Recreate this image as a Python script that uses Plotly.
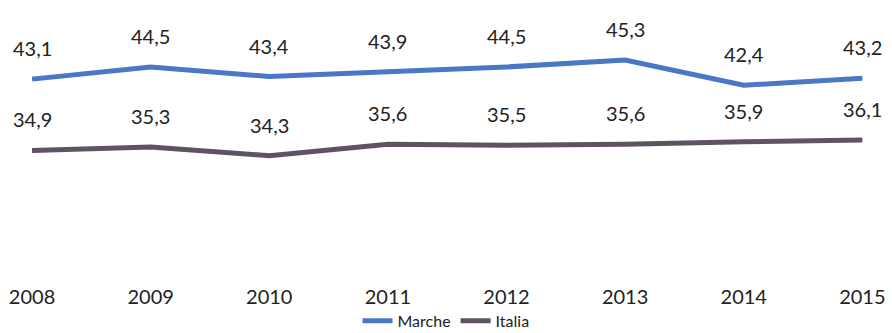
import plotly.graph_objects as go

years = [2008, 2009, 2010, 2011, 2012, 2013, 2014, 2015]
marche = [43.1, 44.5, 43.4, 43.9, 44.5, 45.3, 42.4, 43.2]
italia = [34.9, 35.3, 34.3, 35.6, 35.5, 35.6, 35.9, 36.1]

FONT = "Lato"
BLUE = "#4a78c4"
GREY = "#5f5262"

def fmt(v):
    return f"{v:.1f}".replace(".", ",")

fig = go.Figure()
fig.add_trace(go.Scatter(x=years, y=marche, name="Marche", mode="lines",
                         line=dict(color=BLUE, width=5)))
fig.add_trace(go.Scatter(x=years, y=italia, name="Italia", mode="lines",
                         line=dict(color=GREY, width=5)))

annotations = []
for series in (marche, italia):
    for x, v in zip(years, series):
        annotations.append(dict(x=x, y=v, xref="x", yref="y", text=fmt(v),
                                showarrow=False, yshift=31,
                                font=dict(family=FONT, size=20, color="#222222")))

fig.update_layout(
    width=892, height=333,
    margin=dict(l=0, r=0, t=0, b=53, autoexpand=False),
    paper_bgcolor="white", plot_bgcolor="white",
    annotations=annotations,
    xaxis=dict(range=[2007.73, 2015.25], tickmode="array", tickvals=years,
               ticktext=[str(y) for y in years], showgrid=False, zeroline=False,
               showline=False, ticks="", ticklabelstandoff=3,
               tickfont=dict(family=FONT, size=20, color="#222222")),
    yaxis=dict(range=[20, 52.2], visible=False),
    legend=dict(orientation="h", x=0.5, xanchor="center", y=-0.085, yanchor="top",
                font=dict(family=FONT, size=16, color="#222222"),
                itemwidth=30, tracegroupgap=0),
    showlegend=True,
)

fig.write_html("out.html")
